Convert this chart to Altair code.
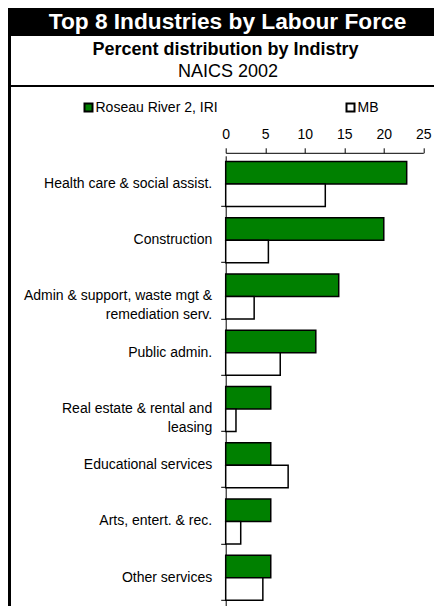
import altair as alt
import pandas as pd

# ---------------- data ----------------
categories = [
    "Health care & social assist.",
    "Construction",
    "Admin & support, waste mgt &|remediation serv.",
    "Public admin.",
    "Real estate & rental and|leasing",
    "Educational services",
    "Arts, entert. & rec.",
    "Other services",
]
series_names = ["Roseau River 2, IRI", "MB"]
roseau = [22.9, 20.0, 14.3, 11.4, 5.7, 5.7, 5.7, 5.7]
mb = [12.6, 5.4, 3.6, 6.9, 1.3, 7.9, 1.9, 4.7]
x_ticks = [0, 5, 10, 15, 20, 25]
series_colors = ["#008000", "#ffffff"]

title_text = "Top 8 Industries by Labour Force"
subtitle_text = "Percent distribution by Indistry"
sub2_text = "NAICS 2002"

rows = []
for c, r, m in zip(categories, roseau, mb):
    rows.append({"industry": c, "series": series_names[0], "pct": r})
    rows.append({"industry": c, "series": series_names[1], "pct": m})
df = pd.DataFrame(rows)
one = pd.DataFrame({"k": [0]})

# ---------------- layout ----------------
FONT = "Liberation Sans"
W, H = 197.6, 450            # plot area
OX, OY = 217.7, 147.8        # plot origin inside the svg
TW, TH = 426, 598            # whole svg


def py(page_y):
    """page y -> y relative to the plot origin"""
    return page_y - 8 - OY


def px(page_x):
    return page_x - 8 - OX


bars = alt.Chart(df).mark_bar(stroke="black", strokeWidth=1.5).encode(
    x=alt.X(
        "pct:Q",
        scale=alt.Scale(domain=[0, 25], nice=False),
        axis=alt.Axis(
            orient="top", values=x_ticks, title=None, grid=False,
            tickSize=5, tickColor="black", domainColor="black",
            labelFontSize=14, labelFont=FONT, labelColor="black",
            labelPadding=6, offset=3, labelFlush=False,
        ),
    ),
    y=alt.Y(
        "industry:N", sort=categories,
        scale=alt.Scale(paddingInner=0.2, paddingOuter=0.1),
        axis=alt.Axis(
            title=None, bandPosition=1, tickSize=5, tickColor="black",
            domainColor="black", labelFontSize=14, labelFont=FONT,
            labelColor="black", labelPadding=9, labelLimit=400,
            labelLineHeight=19, labelExpr="split(datum.label, '|')",
        ),
    ),
    yOffset=alt.YOffset("series:N", sort=series_names),
    color=alt.Color(
        "series:N", sort=series_names,
        scale=alt.Scale(domain=series_names, range=series_colors),
        legend=alt.Legend(
            orient="none", legendX=px(83) - 1.5, legendY=py(107) - 6.4,
            direction="horizontal",
            title=None, symbolType="square", symbolSize=64,
            symbolStrokeColor="black", symbolStrokeWidth=2,
            labelFontSize=14, labelFont=FONT, labelColor="black",
            columnPadding=124, padding=0, labelOffset=0,
        ),
    ),
)

band = alt.Chart(one).mark_rect(color="black").encode(
    x=alt.value(-OX), x2=alt.value(TW - OX), y=alt.value(-OY), y2=alt.value(py(36))
)
left_border = alt.Chart(one).mark_rect(color="black").encode(
    x=alt.value(-OX), x2=alt.value(-OX + 3), y=alt.value(-OY), y2=alt.value(TH - OY)
)
hline = alt.Chart(one).mark_rect(color="black").encode(
    x=alt.value(-OX), x2=alt.value(TW - OX), y=alt.value(py(85)), y2=alt.value(py(87))
)
title = alt.Chart(one).mark_text(
    text=title_text, font=FONT, fontSize=22.7, fontWeight="bold", color="white",
    align="center", baseline="alphabetic",
).encode(x=alt.value(px(227.5)), y=alt.value(py(29)))
subtitle = alt.Chart(one).mark_text(
    text=subtitle_text, font=FONT, fontSize=18, fontWeight="bold", color="black",
    align="center", baseline="alphabetic",
).encode(x=alt.value(px(225.5)), y=alt.value(py(55)))
sub2 = alt.Chart(one).mark_text(
    text=sub2_text, font=FONT, fontSize=18, color="black",
    align="center", baseline="alphabetic",
).encode(x=alt.value(px(228)), y=alt.value(py(77)))

chart = alt.layer(band, left_border, hline, title, subtitle, sub2, bars).properties(
    width=W, height=H, autosize="none",
    padding={"left": OX, "top": OY, "right": TW - OX - W, "bottom": TH - OY - H},
    background="white",
).configure_view(stroke=None)

chart.save("out.html", embed_options={"renderer": "svg", "actions": False})
